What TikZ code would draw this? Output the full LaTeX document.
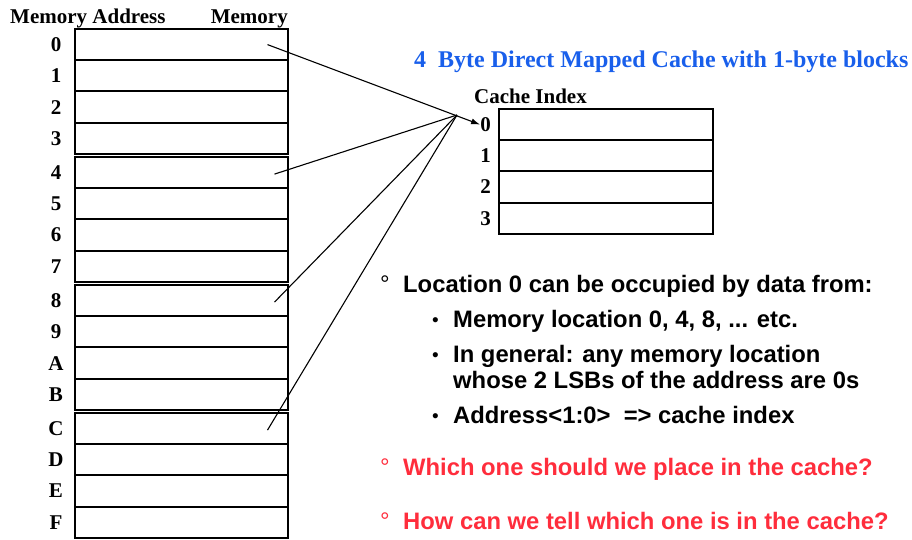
\documentclass[tikz,border=0pt]{standalone}
\usepackage{fontspec}
\setmainfont{Liberation Serif}
\setsansfont{Liberation Sans}
\usepackage{tikz}
\usetikzlibrary{positioning,arrows.meta}
\definecolor{titleblue}{RGB}{25,95,235}
\definecolor{askred}{RGB}{255,45,60}

\begin{document}
\begin{tikzpicture}[x=1pt,y=-1pt,
  cell/.style={draw,line width=2pt,minimum width=213pt,minimum height=31.25pt,inner sep=0pt},
  slot/.style={draw,line width=2pt,minimum width=214pt,minimum height=31.2pt,inner sep=0pt},
  hdr/.style={font=\fontsize{21}{21}\selectfont\bfseries,inner sep=0pt},
  point/.style={font=\fontsize{23.8}{26}\selectfont\sffamily\bfseries,inner sep=0pt,anchor=base west,align=left},
  ring/.style={font=\fontsize{24}{24}\selectfont\sffamily,inner sep=0pt,anchor=base west},
  dot/.style={font=\fontsize{19}{19}\selectfont\sffamily,inner sep=0pt,anchor=base west},
  wire/.style={line width=1.1pt}]
  \useasboundingbox (0,0) rectangle (912,539);
  \node[hdr,anchor=base west] (addrhdr) at (10,23) {Memory Address};
  \node[hdr,anchor=base east] (memhdr) at (288,23) {Memory};
  \foreach \lab [count=\i from 0] in {0,1,2,3,4,5,6,7,8,9,A,B,C,D,E,F} {
    \pgfmathsetmacro\yc{29+int(\i/4)*128+mod(\i,4)*31.25+15.6}
    \node[cell] (mem\i) at (181.5,\yc) {};
    \node[hdr] (adr\i) at (56,\yc) {\lab};
  }
  \node[hdr,text=titleblue,font=\fontsize{24}{24}\selectfont\bfseries,anchor=base west] (title) at (414,67) {4\ \ Byte Direct Mapped Cache with 1-byte blocks};
  \node[hdr,anchor=base west] (cachehdr) at (474,103) {Cache Index};
  \foreach \i in {0,...,3} {
    \node[slot] (slot\i) at (606,124.6+\i*31.2) {};
    \node[hdr,left=7pt of slot\i] (idx\i) {\i};
  }
  \coordinate (hub) at (457,115);
  \draw[wire,-{Latex[length=9pt,width=6pt]}] ([xshift=86pt]mem0.center) -- (idx0.west);
  \foreach \k/\dx in {4/93,8/93,12/86}
    \draw[wire] ([xshift=\dx pt,yshift=-1.5pt]mem\k.center) -- (hub);
  \node[ring] (r1) at (380,292) {°};
  \node[point] (loc) at (403,292) {Location 0 can be occupied by data from:};
  \node[dot] (b1) at (432,326) {•};
  \node[point] (sub1) at (453,327) {Memory location 0, 4, 8, ... etc.};
  \node[dot] (b2) at (432,361) {•};
  \node[point,anchor=north west] (sub2) at (453,345) {In general: any memory location\\whose 2 LSBs of the address are 0s};
  \node[dot] (b3) at (432,422) {•};
  \node[point] (sub3) at (453,423) {Address<1:0>\ \ => cache index};
  \node[ring,text=askred] (r2) at (380,475) {°};
  \node[point,text=askred] (ask1) at (403,475) {Which one should we place in the cache?};
  \node[ring,text=askred] (r3) at (380,529) {°};
  \node[point,text=askred] (ask2) at (403,529) {How can we tell which one is in the cache?};
\end{tikzpicture}
\end{document}
